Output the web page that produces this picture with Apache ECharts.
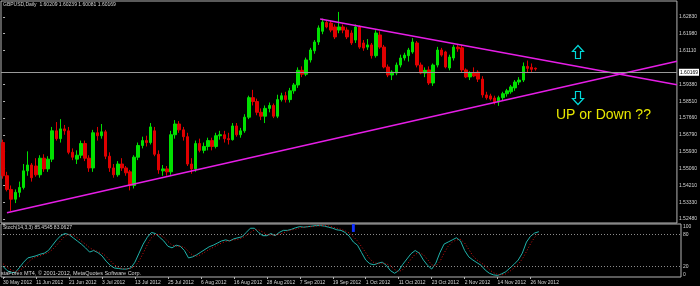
<!DOCTYPE html>
<html><head><meta charset="utf-8">
<script src="https://cdn.jsdelivr.net/npm/echarts@6/dist/echarts.min.js"></script>
<style>html,body{margin:0;padding:0;background:#000;}#c{width:700px;height:286px;}</style>
</head><body><div id="c"></div>
<script>
// ---- data ----
const dateLabels = ['30 May 2012','11 Jun 2012','21 Jun 2012','3 Jul 2012','13 Jul 2012','25 Jul 2012','6 Aug 2012','16 Aug 2012','28 Aug 2012','7 Sep 2012','19 Sep 2012','1 Oct 2012','11 Oct 2012','23 Oct 2012','2 Nov 2012','14 Nov 2012','26 Nov 2012'];
const labelEvery = 8;      // bars between date labels
const totalSlots = 165;    // 131 bars + empty right margin

const opens = [
1.5640,1.5470,1.5400,1.5350,1.5385,1.5410,1.5495,1.5525,1.5520,1.5475,
1.5560,1.5505,1.5555,1.5700,1.5660,1.5710,1.5700,1.5590,1.5555,1.5575,
1.5635,1.5560,1.5510,1.5690,1.5675,1.5695,1.5570,1.5510,1.5475,1.5530,
1.5510,1.5490,1.5420,1.5565,1.5625,1.5650,1.5640,1.5700,1.5580,1.5495,
1.5505,1.5490,1.5680,1.5735,1.5705,1.5670,1.5530,1.5505,1.5635,1.5600,
1.5620,1.5650,1.5620,1.5675,1.5680,1.5660,1.5655,1.5725,1.5680,1.5700,
1.5770,1.5870,1.5850,1.5795,1.5775,1.5815,1.5830,1.5775,1.5860,1.5880,
1.5860,1.5905,1.5935,1.6010,1.5990,1.6063,1.6110,1.6155,1.6210,1.6255,
1.6252,1.6232,1.6216,1.6232,1.6216,1.6201,1.6165,1.6232,1.6150,1.6129,
1.6140,1.6085,1.6191,1.6129,1.6027,1.5986,1.5996,1.6037,1.6073,1.6085,
1.6104,1.6150,1.6037,1.5996,1.6012,1.5945,1.6037,1.6114,1.6104,1.6022,
1.6073,1.6129,1.6125,1.6012,1.5976,1.5996,1.6001,1.5965,1.5884,1.5879,
1.5868,1.5848,1.5870,1.5890,1.5900,1.5920,1.5950,1.5960,1.6030,1.6025,
1.60209];
const highs = [
1.5655,1.5490,1.5420,1.5400,1.5440,1.5530,1.5595,1.5535,1.5560,1.5575,
1.5580,1.5570,1.5720,1.5745,1.5760,1.5730,1.5720,1.5610,1.5600,1.5650,
1.5650,1.5575,1.5705,1.5720,1.5735,1.5705,1.5590,1.5530,1.5545,1.5560,
1.5520,1.5500,1.5575,1.5640,1.5670,1.5675,1.5740,1.5720,1.5600,1.5525,
1.5520,1.5700,1.5755,1.5750,1.5720,1.5690,1.5560,1.5650,1.5660,1.5640,
1.5665,1.5665,1.5690,1.5700,1.5700,1.5690,1.5740,1.5740,1.5715,1.5785,
1.5880,1.5910,1.5865,1.5815,1.5830,1.5845,1.5840,1.5885,1.5895,1.5900,
1.5920,1.5945,1.6025,1.6030,1.6075,1.6125,1.6165,1.6240,1.6275,1.6265,
1.6265,1.6245,1.6309,1.6245,1.6230,1.6215,1.6245,1.6240,1.6165,1.6170,
1.6150,1.6215,1.6210,1.6140,1.6040,1.6010,1.6050,1.6090,1.6100,1.6125,
1.6175,1.6160,1.6050,1.6025,1.6030,1.6045,1.6130,1.6125,1.6110,1.6090,
1.6140,1.6145,1.6140,1.6020,1.6005,1.6025,1.6010,1.5980,1.5900,1.5890,
1.5880,1.5880,1.5900,1.5915,1.5935,1.5960,1.5975,1.6050,1.6060,1.6045,
1.60239];
const lows = [
1.5455,1.5390,1.5290,1.5330,1.5360,1.5400,1.5470,1.5440,1.5465,1.5460,
1.5490,1.5490,1.5540,1.5650,1.5640,1.5680,1.5580,1.5550,1.5530,1.5560,
1.5545,1.5490,1.5490,1.5650,1.5660,1.5555,1.5490,1.5460,1.5465,1.5495,
1.5470,1.5395,1.5405,1.5550,1.5610,1.5620,1.5630,1.5570,1.5480,1.5470,
1.5470,1.5475,1.5660,1.5690,1.5650,1.5520,1.5480,1.5490,1.5590,1.5585,
1.5600,1.5600,1.5610,1.5655,1.5640,1.5630,1.5650,1.5670,1.5665,1.5690,
1.5760,1.5830,1.5780,1.5755,1.5740,1.5795,1.5765,1.5765,1.5850,1.5845,
1.5845,1.5890,1.5920,1.5975,1.5980,1.6050,1.6095,1.6140,1.6195,1.6225,
1.6205,1.6170,1.6200,1.6200,1.6170,1.6140,1.6150,1.6120,1.6110,1.6115,
1.6070,1.6075,1.6120,1.6020,1.5975,1.5960,1.5985,1.6025,1.6060,1.6055,
1.6095,1.6025,1.5990,1.5975,1.5935,1.5930,1.6025,1.6080,1.6020,1.6010,
1.6060,1.6105,1.6000,1.5970,1.5960,1.5975,1.5950,1.5870,1.5860,1.5855,
1.5835,1.5828,1.5855,1.5875,1.5890,1.5905,1.5935,1.5950,1.6000,1.6000,
1.60081];
const closes = [
1.5470,1.5400,1.5350,1.5385,1.5410,1.5495,1.5525,1.5460,1.5475,1.5560,
1.5505,1.5555,1.5700,1.5660,1.5710,1.5700,1.5590,1.5565,1.5575,1.5635,
1.5560,1.5510,1.5690,1.5675,1.5695,1.5570,1.5510,1.5475,1.5530,1.5510,
1.5485,1.5420,1.5565,1.5625,1.5650,1.5640,1.5720,1.5580,1.5500,1.5505,
1.5490,1.5680,1.5735,1.5705,1.5670,1.5530,1.5505,1.5635,1.5600,1.5620,
1.5650,1.5620,1.5675,1.5680,1.5660,1.5655,1.5725,1.5680,1.5700,1.5770,
1.5870,1.5850,1.5795,1.5775,1.5815,1.5830,1.5775,1.5860,1.5880,1.5860,
1.5905,1.5935,1.6010,1.5990,1.6063,1.6114,1.6155,1.6227,1.6257,1.6232,
1.6216,1.6181,1.6232,1.6216,1.6181,1.6150,1.6232,1.6129,1.6124,1.6140,
1.6085,1.6201,1.6129,1.6027,1.5986,1.6001,1.6037,1.6073,1.6088,1.6114,
1.6155,1.6037,1.5996,1.6010,1.5945,1.6037,1.6114,1.6088,1.6027,1.6078,
1.6129,1.6120,1.6012,1.5976,1.5996,1.5981,1.5965,1.5884,1.5870,1.5863,
1.5848,1.5870,1.5890,1.5905,1.5925,1.5950,1.5960,1.6030,1.6020,1.6015,
1.60169];
const stochMain = [
20,12,8,9,18,28,36,38,40,43,
45,50,60,70,78,82,80,74,68,62,
55,47,50,46,40,30,22,17,16,15,
15,17,28,45,62,75,84,82,75,68,
58,55,60,58,50,36,38,42,47,52,
57,60,64,68,70,68,72,74,76,84,
92,92,84,78,78,82,78,84,88,88,
90,93,95,94,95,96,97,97,96,94,
92,89,88,84,77,66,60,46,32,25,
23,26,28,22,12,7,12,24,34,44,
50,45,32,22,15,26,46,62,66,70,
74,68,50,38,32,27,22,13,7,4,
3,6,10,17,24,32,45,66,77,83,
85.4545];
const stochSignal = [
25,18,13,10,12,18,27,34,38,40,
43,46,52,60,69,77,80,79,74,68,
62,55,51,48,45,39,31,23,18,16,
15,16,20,30,45,61,74,80,80,75,
67,60,58,58,56,48,41,39,42,47,
52,56,60,64,67,69,70,71,74,78,
84,89,89,85,80,79,79,81,83,87,
89,90,93,94,95,95,96,97,97,96,
94,92,90,87,83,76,68,57,46,34,
27,25,26,25,21,14,10,14,23,34,
43,46,42,33,23,21,29,45,58,66,
70,71,64,52,40,32,27,21,14,8,
5,4,6,11,17,24,34,48,63,75,
83.0627];
const priceTicks = [1.6283,1.6198,1.6111,1.5938,1.5851,1.5766,1.5679,1.5593,1.5506,1.5421,1.5333,1.5248];
const stochLevels = [0,20,80,100];
const signalLevels = [80,20];
const currentPrice = 1.60169;
const priceMax = 1.6365, priceMin = 1.5228;
const upperTrend = [[77.4,1.6273],[164.5,1.5936]];
const lowerTrend = [[0.96,1.5280],[164.5,1.6056]];
const blueMarker = {bar:85, top:100, bottom:85};
const titleText = 'GBPUSD,Daily  1.60209 1.60239 1.60081 1.60169';
const stochTitle = 'Stoch(14,3,3) 85.4545 83.0627';
const copyright = 'staForex MT4, \u00a9 2001-2012, MetaQuotes Software Corp.';
const note = 'UP or Down ??';

// ---- chart ----
const cats = Array.from({length: totalSlots}, (_, i) => String(i));
const candleData = opens.map((o, i) => [o, closes[i], lows[i], highs[i]]);
const showLabel = (idx) => idx % labelEvery === 0 && idx / labelEvery < dateLabels.length;
const FONT = 'Liberation Sans';
const GRAY = '#b4b4b4';
const TXT = '#d4d4d4';

function arrow(cx, cy, dir) {
  const h = 6.5, w = 5.5, s = 2.5;
  const pts = [[0,-h],[w,-0.5],[s,-0.5],[s,h],[-s,h],[-s,-0.5],[-w,-0.5]];
  return pts.map(p => [cx + p[0], cy + dir * p[1]]);
}

const chart = echarts.init(document.getElementById('c'), null, {renderer: 'canvas'});
chart.setOption({
  backgroundColor: '#000',
  animation: false,
  grid: [
    {left: 1, top: 1, width: 680, height: 222, show: true, borderColor: GRAY, borderWidth: 1, backgroundColor: '#000'},
    {left: 1, top: 224, width: 680, height: 53, show: true, borderColor: GRAY, borderWidth: 1, backgroundColor: '#000'}
  ],
  xAxis: [
    {type: 'category', gridIndex: 0, data: cats, boundaryGap: true, show: false},
    {type: 'value', gridIndex: 0, min: -0.5, max: totalSlots - 0.5, show: false},
    {type: 'category', gridIndex: 1, data: cats, boundaryGap: true,
      axisLine: {show: false},
      axisTick: {show: true, interval: showLabel, alignWithLabel: true, length: 2, lineStyle: {color: GRAY}},
      axisLabel: {interval: showLabel, formatter: (v, idx) => dateLabels[idx / labelEvery] || '', color: TXT, fontSize: 5, fontFamily: FONT, align: 'left', margin: 3},
      splitLine: {show: false}},
    {type: 'value', gridIndex: 1, min: -0.5, max: totalSlots - 0.5, show: false}
  ],
  yAxis: [
    {type: 'value', gridIndex: 0, position: 'right', min: priceMin, max: priceMax,
      axisLine: {show: false}, splitLine: {show: false},
      axisTick: {show: true, customValues: priceTicks, length: 2, lineStyle: {color: GRAY}},
      axisLabel: {customValues: priceTicks, formatter: v => v.toFixed(5), color: TXT, fontSize: 5, fontFamily: FONT, margin: 2}},
    {type: 'value', gridIndex: 1, position: 'right', min: 0, max: 100,
      axisLine: {show: false}, splitLine: {show: false},
      axisTick: {show: true, customValues: stochLevels, length: 2, lineStyle: {color: GRAY}},
      axisLabel: {customValues: stochLevels, color: TXT, fontSize: 5, fontFamily: FONT, margin: 2,
        verticalAlignMaxLabel: 'top', verticalAlignMinLabel: 'bottom'}}
  ],
  series: [
    {type: 'candlestick', xAxisIndex: 0, yAxisIndex: 0, data: candleData, barWidth: 3,
      itemStyle: {color: '#00e000', color0: '#e00000', borderColor: '#00e000', borderColor0: '#e00000', borderWidth: 1},
      markLine: {silent: true, symbol: 'none', animation: false,
        data: [{yAxis: currentPrice}],
        lineStyle: {color: '#9a9a9a', width: 1, type: 'solid'},
        label: {show: true, position: 'end', distance: 2, formatter: currentPrice.toFixed(5), color: '#000', backgroundColor: '#ffffff', padding: [1, 1], fontSize: 5, fontFamily: FONT}}},
    {type: 'line', xAxisIndex: 1, yAxisIndex: 0, data: upperTrend, symbol: 'none', silent: true,
      lineStyle: {color: '#e61ee6', width: 1.5}},
    {type: 'line', xAxisIndex: 1, yAxisIndex: 0, data: lowerTrend, symbol: 'none', silent: true,
      lineStyle: {color: '#e61ee6', width: 1.5}},
    {type: 'line', xAxisIndex: 2, yAxisIndex: 1, data: stochMain, symbol: 'none', silent: true,
      lineStyle: {color: '#20b2aa', width: 1},
      markLine: {silent: true, symbol: 'none', animation: false, label: {show: false},
        data: signalLevels.map(v => ({yAxis: v})),
        lineStyle: {color: '#8c8c8c', width: 1, type: [1, 2]}}},
    {type: 'line', xAxisIndex: 2, yAxisIndex: 1, data: stochSignal, symbol: 'none', silent: true,
      lineStyle: {color: '#d01010', width: 1, type: [1, 2]}},
    {type: 'line', xAxisIndex: 3, yAxisIndex: 1, data: [[blueMarker.bar, blueMarker.top]], symbol: 'none', silent: true,
      lineStyle: {opacity: 0},
      markArea: {silent: true, itemStyle: {color: '#1030ff'},
        data: [[{coord: [blueMarker.bar - 0.35, blueMarker.top]}, {coord: [blueMarker.bar + 0.35, blueMarker.bottom]}]]}}
  ],
  graphic: [
    {type: 'text', x: 3, y: 5, z: 100, style: {text: titleText, fill: TXT, fontSize: 5, fontFamily: FONT, verticalAlign: 'middle'}},
    {type: 'text', x: 3, y: 228, z: 100, style: {text: stochTitle, fill: TXT, fontSize: 5, fontFamily: FONT, verticalAlign: 'middle'}},
    {type: 'text', x: 1, y: 273, z: 100, style: {text: copyright, fill: TXT, fontSize: 5.5, fontFamily: FONT, verticalAlign: 'middle'}},
    {type: 'text', x: 556, y: 115, z: 100, style: {text: note, fill: '#e8e800', fontSize: 14, fontFamily: FONT, verticalAlign: 'middle'}},
    {type: 'polygon', z: 100, shape: {points: arrow(578, 52, 1)}, style: {fill: 'none', stroke: '#00d8d8', lineWidth: 1.2}},
    {type: 'polygon', z: 100, shape: {points: arrow(578, 98, -1)}, style: {fill: 'none', stroke: '#00d8d8', lineWidth: 1.2}}
  ]
});
</script></body></html>
